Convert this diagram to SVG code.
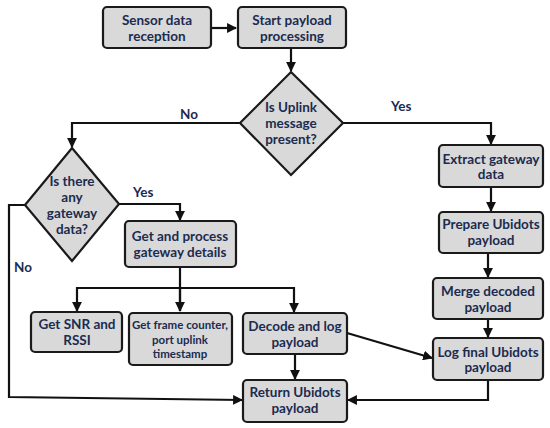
<svg xmlns="http://www.w3.org/2000/svg" width="550" height="428" viewBox="0 0 550 428">
<style>
.n{fill:#d9d9d9;stroke:#1a1a1a;stroke-width:2.2}
.t{font-family:Lato,"Liberation Sans",sans-serif;font-weight:bold;font-size:13.5px;fill:#1c2b4f;text-anchor:middle}
.s{font-size:11.5px}
.c{fill:none;stroke:#111;stroke-width:2.2}
.l{font-family:Lato,"Liberation Sans",sans-serif;font-weight:bold;font-size:13.5px;fill:#1c2b4f}
</style>
<defs>
<marker id="a" viewBox="0 0 10 10" refX="9" refY="5" markerWidth="4.5" markerHeight="4.5" orient="auto-start-reverse" markerUnits="strokeWidth">
<path d="M0,0 L10,5 L0,10 z" fill="#111"/>
</marker>
</defs>
<rect width="550" height="428" fill="#fff"/>
<g id="connectors">
<path class="c" d="M212,28 H236" marker-end="url(#a)"/>
<path class="c" d="M291,48 V71" marker-end="url(#a)"/>
<path class="c" d="M240,123 H72 V147" marker-end="url(#a)"/>
<path class="c" d="M343,123 H491 V144" marker-end="url(#a)"/>
<path class="c" d="M119,204 H180 V220" marker-end="url(#a)"/>
<path class="c" d="M180,267 V311"/>
<path class="c" d="M180,288 H77 V311" marker-end="url(#a)"/>
<path class="c" d="M180,288 V311" marker-end="url(#a)"/>
<path class="c" d="M180,288 H294 V312" marker-end="url(#a)"/>
<path class="c" d="M25,205 H9 V397 L242,400" marker-end="url(#a)"/>
<path class="c" d="M295,354 V379" marker-end="url(#a)"/>
<path class="c" d="M347,333 L432,358" marker-end="url(#a)"/>
<path class="c" d="M491,187 V211" marker-end="url(#a)"/>
<path class="c" d="M488,253 V277" marker-end="url(#a)"/>
<path class="c" d="M488,319 V337" marker-end="url(#a)"/>
<path class="c" d="M488,380 V400 H348" marker-end="url(#a)"/>
<text class="l" x="180" y="119">No</text>
<text class="l" x="391" y="111">Yes</text>
<text class="l" x="133" y="197">Yes</text>
<text class="l" x="14" y="272">No</text>
</g>
<g id="sensor">
<rect class="n" x="103" y="7" width="108" height="41" rx="4"/>
<text class="t" x="157" y="24.5">Sensor data</text>
<text class="t" x="157" y="40.5">reception</text>
</g>
<g id="start">
<rect class="n" x="238" y="7" width="108" height="41" rx="4"/>
<text class="t" x="292" y="24.5">Start payload</text>
<text class="t" x="292" y="40.5">processing</text>
</g>
<g id="uplink">
<polygon class="n" points="291,72 343,123 291,175 240,123"/>
<text class="t" x="291" y="111.5">Is Uplink</text>
<text class="t" x="291" y="127.5">message</text>
<text class="t" x="291" y="143.5">present?</text>
</g>
<g id="gateway-q">
<polygon class="n" points="72,148 119,204 72,261 25,205"/>
<text class="t" x="72" y="186">Is there</text>
<text class="t" x="72" y="202">any</text>
<text class="t" x="72" y="218">gateway</text>
<text class="t" x="72" y="234">data?</text>
</g>
<g id="process">
<rect class="n" x="125" y="221" width="111" height="46" rx="4"/>
<text class="t" x="180" y="240.5">Get and process</text>
<text class="t" x="180" y="256.5">gateway details</text>
</g>
<g id="snr">
<rect class="n" x="31" y="312" width="91" height="40" rx="4"/>
<text class="t" x="77" y="328.5">Get SNR and</text>
<text class="t" x="77" y="344.5">RSSI</text>
</g>
<g id="frame">
<rect class="n" x="129" y="313" width="103" height="52" rx="4"/>
<text class="t s" x="180" y="329">Get frame counter,</text>
<text class="t s" x="180" y="343.5">port uplink</text>
<text class="t s" x="180" y="358">timestamp</text>
</g>
<g id="decode">
<rect class="n" x="243" y="313" width="104" height="41" rx="4"/>
<text class="t" x="295" y="330.5">Decode and log</text>
<text class="t" x="295" y="346.5">payload</text>
</g>
<g id="return">
<rect class="n" x="243" y="380" width="104" height="42" rx="4"/>
<text class="t" x="295" y="396.5">Return Ubidots</text>
<text class="t" x="295" y="412.5">payload</text>
</g>
<g id="extract">
<rect class="n" x="439" y="145" width="104" height="42" rx="4"/>
<text class="t" x="491" y="163.5">Extract gateway</text>
<text class="t" x="491" y="178.5">data</text>
</g>
<g id="prepare">
<rect class="n" x="439" y="212" width="104" height="41" rx="4"/>
<text class="t" x="491" y="228.5">Prepare Ubidots</text>
<text class="t" x="491" y="244.5">payload</text>
</g>
<g id="merge">
<rect class="n" x="433" y="278" width="110" height="41" rx="4"/>
<text class="t" x="488" y="295.5">Merge decoded</text>
<text class="t" x="488" y="311.5">payload</text>
</g>
<g id="logfinal">
<rect class="n" x="433" y="338" width="110" height="42" rx="4"/>
<text class="t" x="488" y="356.5">Log final Ubidots</text>
<text class="t" x="488" y="371.5">payload</text>
</g>
</svg>
